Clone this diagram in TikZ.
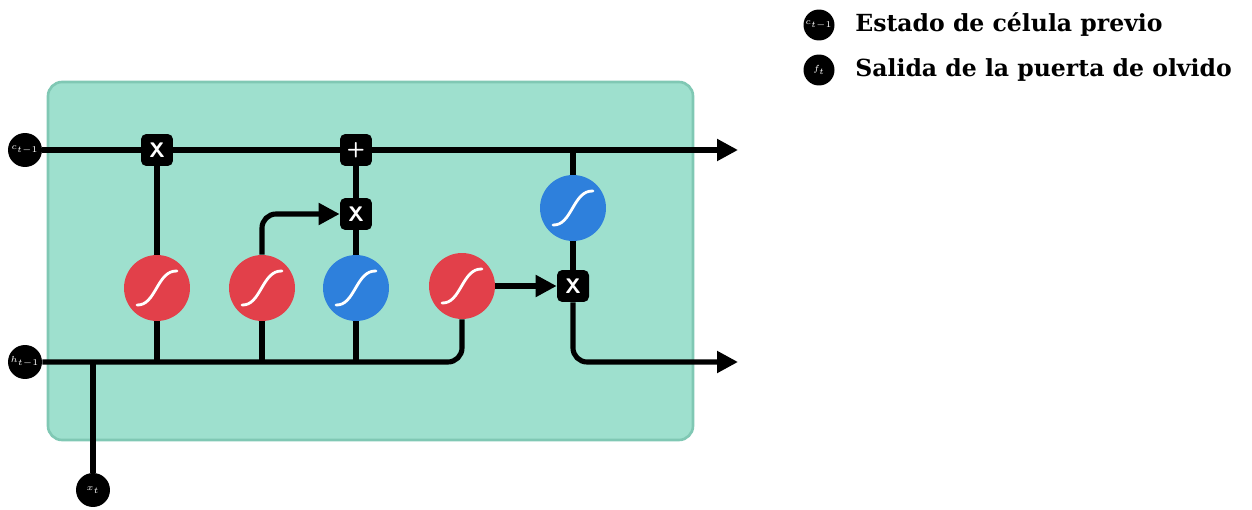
\documentclass[tikz,border=0pt]{standalone}
\usepackage{fontspec}
\newfontfamily\legfont{DejaVu Serif}
\usetikzlibrary{arrows.meta}

\definecolor{cellgreen}{RGB}{158,224,206}
\definecolor{celledge}{RGB}{128,200,180}
\definecolor{sigred}{RGB}{226,64,74}
\definecolor{sigblue}{RGB}{46,128,220}

\begin{document}
\begin{tikzpicture}[x=0.02cm, y=-0.02cm,
    wire/.style={line width=2.9pt},
    flow/.style={wire, -{Triangle[length=0.42cm, width=0.42cm]}},
    sig/.style={circle, minimum size=1.32cm, inner sep=0pt, fill=#1,
        path picture={\draw[white, line width=1.6pt, line cap=round]
            ([shift={(-0.4cm,-0.34cm)}]path picture bounding box.center)
            .. controls ([shift={(-0.02cm,-0.36cm)}]path picture bounding box.center)
            and ([shift={(0.0cm,0.36cm)}]path picture bounding box.center)
            .. ([shift={(0.4cm,0.34cm)}]path picture bounding box.center);}},
    gate/.style={fill=black, rounded corners=3pt, minimum size=0.64cm, inner sep=0pt,
        text=white, font=\sffamily\bfseries\large},
    dot/.style={circle, fill=black, minimum size=0.68cm, inner sep=0pt,
        text=white, font=\fontsize{5}{5}\selectfont\sffamily\bfseries},
    legdot/.style={circle, fill=black, minimum size=0.62cm, inner sep=0pt,
        text=white, font=\fontsize{4}{4}\selectfont\sffamily\bfseries},
    legtext/.style={anchor=west, inner sep=0pt, font=\legfont\bfseries\fontsize{13.4}{13.4}\selectfont}]

  \useasboundingbox (0,0) rectangle (1252,510);

  % cell body
  \draw[fill=cellgreen, draw=celledge, line width=1.5pt, rounded corners=8pt] (48,82) rectangle (693,440);

  % inputs
  \node[dot] (cprev) at (25,150) {$c_{t-1}$};
  \node[dot] (hprev) at (25,362) {$h_{t-1}$};
  \node[dot] (xt) at (93,490) {$x_t$};
  \coordinate (cout) at (738,150);
  \coordinate (hout) at (738,362);
  \coordinate (ctap) at (573,150);

  % gates
  \node[gate] (fx) at (157,150) {X};
  \node[gate] (addg) at (356,150) {+};
  \node[gate] (ix) at (356,214) {X};
  \node[gate] (ox) at (573,286) {X};

  % layers
  \node[sig=sigred] (sf) at (157,288) {};
  \node[sig=sigred] (si) at (262,288) {};
  \node[sig=sigblue] (sc) at (356,288) {};
  \node[sig=sigred] (so) at (462,286) {};
  \node[sig=sigblue] (st) at (573,208) {};

  % cell state
  \draw[wire] (cprev) -- (fx);
  \draw[wire] (fx) -- (addg);
  \draw[flow] (addg) -- (cout);
  \draw[wire] (ctap) -- (st);
  \draw[wire] (st) -- (ox);

  % hidden state
  \draw[wire, rounded corners=8pt] (hprev) -| (so);
  \draw[wire] (xt) -- (xt |- hprev);
  \draw[wire] (sf) -- (sf |- hprev);
  \draw[wire] (si) -- (si |- hprev);
  \draw[wire] (sc) -- (sc |- hprev);
  \draw[wire] (sf) -- (fx);
  \draw[wire] (sc) -- (ix);
  \draw[wire] (ix) -- (addg);
  \draw[flow, rounded corners=8pt] (si) |- (ix);
  \draw[flow] (so) -- (ox);
  \draw[flow, rounded corners=8pt] (ox) |- (hout);

  % legend
  \node[legdot] (lc) at (819,25) {$c_{t-1}$};
  \node[legdot] (lf) at (819,70) {$f_t$};
  \node[legtext] (lct) at (855,25) {Estado de célula previo};
  \node[legtext] (lft) at (855,70) {Salida de la puerta de olvido};
\end{tikzpicture}
\end{document}
